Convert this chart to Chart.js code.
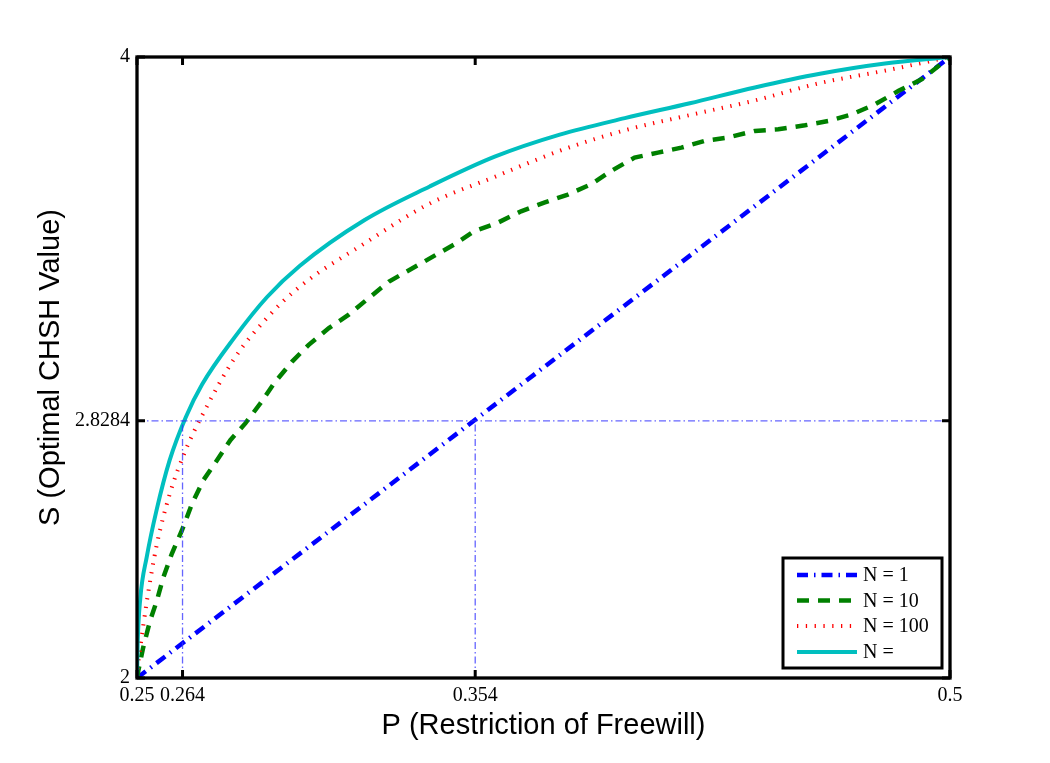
<!DOCTYPE html>
<html>
<head>
<meta charset="utf-8">
<script src="https://cdn.jsdelivr.net/npm/chart.js@4/dist/chart.umd.min.js"></script>
<style>
html,body{margin:0;padding:0;background:#fff;}
#wrap{width:1050px;height:763px;}
</style>
</head>
<body>
<div id="wrap"><canvas id="c" width="1050" height="763"></canvas></div>
<script>
// ---- data ----
const SERIES_LABELS = ['N = 1', 'N = 10', 'N = 100', 'N = '];

const P_N1 = [0.25, 0.5];
const S_N1 = [2.0, 4.0];

const P_N10 = [0.25, 0.2504, 0.2519, 0.2540, 0.2561, 0.2581, 0.2607, 0.2638, 0.2669, 0.2704,
  0.2746, 0.2787, 0.2833, 0.2879, 0.2925, 0.2977, 0.3028, 0.3090, 0.3151, 0.3213,
  0.3275, 0.3331, 0.3403, 0.3475, 0.3537, 0.3609, 0.3681, 0.3752, 0.3825, 0.3896,
  0.3958, 0.4030, 0.4102, 0.4174, 0.4246, 0.4318, 0.4400, 0.4472, 0.4554, 0.4626,
  0.4698, 0.4770, 0.4842, 0.4914, 0.5];
const S_N10 = [2.0, 2.023, 2.098, 2.184, 2.249, 2.324, 2.400, 2.475, 2.561, 2.637,
  2.701, 2.766, 2.820, 2.884, 2.954, 3.019, 3.073, 3.127, 3.170, 3.224,
  3.277, 3.310, 3.353, 3.396, 3.439, 3.466, 3.503, 3.531, 3.557, 3.590,
  3.633, 3.676, 3.692, 3.708, 3.730, 3.741, 3.762, 3.767, 3.780, 3.794,
  3.815, 3.848, 3.891, 3.929, 4.0];

const P_GRID = [0.25, 0.2502, 0.251, 0.253, 0.256, 0.26, 0.265, 0.27, 0.28, 0.29, 0.30,
  0.32, 0.34, 0.36, 0.38, 0.40, 0.42, 0.44, 0.46, 0.48, 0.50];
const S_N100 = [2.0, 2.03, 2.097, 2.245, 2.425, 2.590, 2.735, 2.845, 3.030, 3.160, 3.260,
  3.400, 3.528, 3.614, 3.698, 3.764, 3.813, 3.860, 3.916, 3.956, 4.0];
const S_INF = [2.0, 2.11, 2.255, 2.39, 2.54, 2.70, 2.840, 2.945, 3.097, 3.227, 3.327,
  3.475, 3.583, 3.679, 3.750, 3.803, 3.851, 3.902, 3.946, 3.979, 4.0];

// reference (guide) lines
const S_BOUND = 2.8284;
const P_CROSS = [0.264, 0.354];

const X_TICKS = [0.25, 0.264, 0.354, 0.5];
const X_TICK_LABELS = ['0.25', '0.264', '0.354', '0.5'];
const Y_TICKS = [2, 2.8284, 4];
const Y_TICK_LABELS = ['2', '2.8284', '4'];

const X_TITLE = 'P (Restriction of Freewill)';
const Y_TITLE = 'S (Optimal CHSH Value)';

// ---- build ----
const zip = (xs, ys) => xs.map((x, i) => ({x: x, y: ys[i]}));
const guideStyle = {
  borderColor: 'rgba(50,50,255,0.75)', borderWidth: 1.3, borderDash: [7, 3, 1.5, 3],
  pointRadius: 0, fill: false, tension: 0
};

const datasets = [
  {label: SERIES_LABELS[0], data: zip(P_N1, S_N1), borderColor: 'rgb(0,0,255)', borderWidth: 4.5,
   borderDash: [11, 6, 1.5, 6], pointRadius: 0, fill: false, order: 4},
  {label: SERIES_LABELS[1], data: zip(P_N10, S_N10), borderColor: 'rgb(0,128,0)', borderWidth: 4.5,
   borderDash: [12, 9], pointRadius: 0, fill: false, order: 3},
  {label: SERIES_LABELS[2], data: zip(P_GRID, S_N100), borderColor: 'rgb(255,0,0)', borderWidth: 4,
   borderDash: [1.3, 7.5], pointRadius: 0, fill: false, cubicInterpolationMode: 'monotone', order: 2},
  {label: SERIES_LABELS[3], data: zip(P_GRID, S_INF), borderColor: 'rgb(0,191,191)', borderWidth: 4,
   pointRadius: 0, fill: false, cubicInterpolationMode: 'monotone', order: 1},
  Object.assign({label: 'h', data: [{x: X_TICKS[0], y: S_BOUND}, {x: X_TICKS[3], y: S_BOUND}], order: 0}, guideStyle),
  Object.assign({label: 'v1', data: [{x: P_CROSS[0], y: Y_TICKS[0]}, {x: P_CROSS[0], y: S_BOUND}], order: 0}, guideStyle),
  Object.assign({label: 'v2', data: [{x: P_CROSS[1], y: Y_TICKS[0]}, {x: P_CROSS[1], y: S_BOUND}], order: 0}, guideStyle)
];

const frameAndLegend = {
  id: 'frameAndLegend',
  afterDatasetsDraw(chart) {
    const ctx = chart.ctx;
    const a = chart.chartArea;
    const xs = chart.scales.x, ys = chart.scales.y;
    ctx.save();
    // frame
    ctx.strokeStyle = '#000';
    ctx.lineWidth = 3.3;
    ctx.setLineDash([]);
    ctx.strokeRect(a.left, a.top, a.right - a.left, a.bottom - a.top);
    // inward ticks
    ctx.lineWidth = 3;
    X_TICKS.forEach(v => {
      const px = xs.getPixelForValue(v);
      ctx.beginPath();
      ctx.moveTo(px, a.bottom); ctx.lineTo(px, a.bottom - 8);
      ctx.moveTo(px, a.top); ctx.lineTo(px, a.top + 8);
      ctx.stroke();
    });
    Y_TICKS.forEach(v => {
      const py = ys.getPixelForValue(v);
      ctx.beginPath();
      ctx.moveTo(a.left, py); ctx.lineTo(a.left + 8, py);
      ctx.moveTo(a.right, py); ctx.lineTo(a.right - 8, py);
      ctx.stroke();
    });
    // legend
    const w = 159, h = 110;
    const L = a.right - 8 - w, T = a.bottom - 10 - h;
    ctx.fillStyle = '#fff';
    ctx.fillRect(L, T, w, h);
    ctx.lineWidth = 3;
    ctx.strokeStyle = '#000';
    ctx.strokeRect(L, T, w, h);
    ctx.font = '20px "Liberation Serif", "Times New Roman", serif';
    ctx.textBaseline = 'middle';
    ctx.textAlign = 'left';
    const rowY = [17, 42.5, 68, 94];
    for (let i = 0; i < 4; i++) {
      const ds = chart.data.datasets[i];
      const y = T + rowY[i];
      ctx.beginPath();
      ctx.strokeStyle = ds.borderColor;
      ctx.lineWidth = ds.borderWidth;
      ctx.setLineDash(ds.borderDash || []);
      ctx.lineCap = 'butt';
      ctx.moveTo(L + 14, y); ctx.lineTo(L + 74, y);
      ctx.stroke();
      ctx.setLineDash([]);
      ctx.fillStyle = '#000';
      ctx.fillText(ds.label, L + 80, y + 1);
    }
    ctx.restore();
  }
};

new Chart(document.getElementById('c'), {
  type: 'line',
  data: {datasets: datasets},
  options: {
    responsive: false,
    animation: false,
    devicePixelRatio: 1,
    layout: {padding: {top: 57, right: 100, bottom: 0, left: 0}},
    plugins: {legend: {display: false}, tooltip: {enabled: false}},
    elements: {line: {borderCapStyle: 'butt'}},
    scales: {
      x: {
        type: 'linear', min: 0.25, max: 0.5,
        afterBuildTicks: s => { s.ticks = X_TICKS.map(v => ({value: v})); },
        afterFit: s => { s.height = 85; },
        ticks: {
          autoSkip: false, maxRotation: 0, padding: 6, color: '#000',
          font: {family: '"Liberation Serif", "Times New Roman", serif', size: 20},
          callback: (v, i) => X_TICK_LABELS[i]
        },
        grid: {display: false, drawTicks: false},
        border: {display: false},
        title: {display: true, text: X_TITLE, color: '#000',
          font: {family: '"Liberation Sans", Arial, sans-serif', size: 29},
          padding: {top: 0, bottom: 20}}
      },
      y: {
        type: 'linear', min: 2, max: 4,
        afterBuildTicks: s => { s.ticks = Y_TICKS.map(v => ({value: v})); },
        afterFit: s => { s.width = 137; },
        ticks: {
          autoSkip: false, padding: 7, color: '#000',
          font: {family: '"Liberation Serif", "Times New Roman", serif', size: 20},
          callback: (v, i) => Y_TICK_LABELS[i]
        },
        grid: {display: false, drawTicks: false},
        border: {display: false},
        title: {display: true, text: Y_TITLE, color: '#000',
          font: {family: '"Liberation Sans", Arial, sans-serif', size: 29},
          padding: {top: 34, bottom: 0}}
      }
    }
  },
  plugins: [frameAndLegend]
});
</script>
</body>
</html>
